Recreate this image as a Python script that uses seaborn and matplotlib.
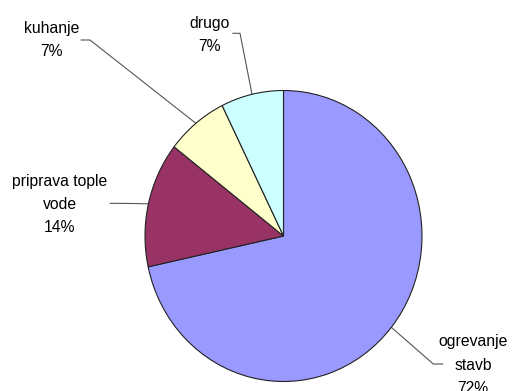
import matplotlib
matplotlib.use("Agg")
import matplotlib.pyplot as plt
import seaborn as sns
import numpy as np

categories = ["ogrevanje\nstavb", "priprava tople\nvode", "kuhanje", "drugo"]
values = [71.6, 13.9, 7.2, 7.3]
colors = ["#9999FF", "#993366", "#FFFFCC", "#CCFFFF"]

sns.set_theme(style="white")
plt.rcParams["font.family"] = ["Liberation Sans", "DejaVu Sans"]

W, H = 512, 391
fig = plt.figure(figsize=(W / 100, H / 100), dpi=100)
ax = fig.add_axes([0, 0, 1, 1])
ax.set_axis_off()

# pie centre / radii in pixels (slightly taller than wide)
cx, cy, rx, ry = 283.5, 236.0, 138.5, 145.5


def X(px):
    return (px - cx) / rx


def Y(py):
    return (cy - py) / ry


palette = sns.color_palette(colors)
wedges, _ = ax.pie(values, colors=palette, startangle=90, counterclock=False,
                   wedgeprops=dict(edgecolor="#222222", linewidth=0.8))
ax.set_aspect("auto")
ax.set_xlim(X(0), X(W))
ax.set_ylim(Y(H), Y(0))

total = sum(values)
# label block centre (px) and leader path start/elbow (px)
label_pos = [
    ((473, 365), [(443, 364), (433.3, 364)]),
    ((60, 204.3), [(110, 203.3), (133, 203.5)]),
    ((52, 40), [(81, 40), (90, 40)]),
    ((210, 35), [(232.7, 33.3), (240, 33.3)]),
]

for w, cat, v, (tp, path) in zip(wedges, categories, values, label_pos):
    mid = np.deg2rad((w.theta1 + w.theta2) / 2)
    ex, ey = np.cos(mid), np.sin(mid)
    xs = [X(p[0]) for p in path] + [ex]
    ys = [Y(p[1]) for p in path] + [ey]
    ax.plot(xs, ys, color="#555555", linewidth=0.8, zorder=0)
    pct = int(round(v / total * 100))
    ax.text(X(tp[0]), Y(tp[1]), f"{cat}\n{pct}%", ha="center", va="center",
            fontsize=11.3, color="black", linespacing=1.68)

fig.savefig("out.png", dpi=100, facecolor="white")
